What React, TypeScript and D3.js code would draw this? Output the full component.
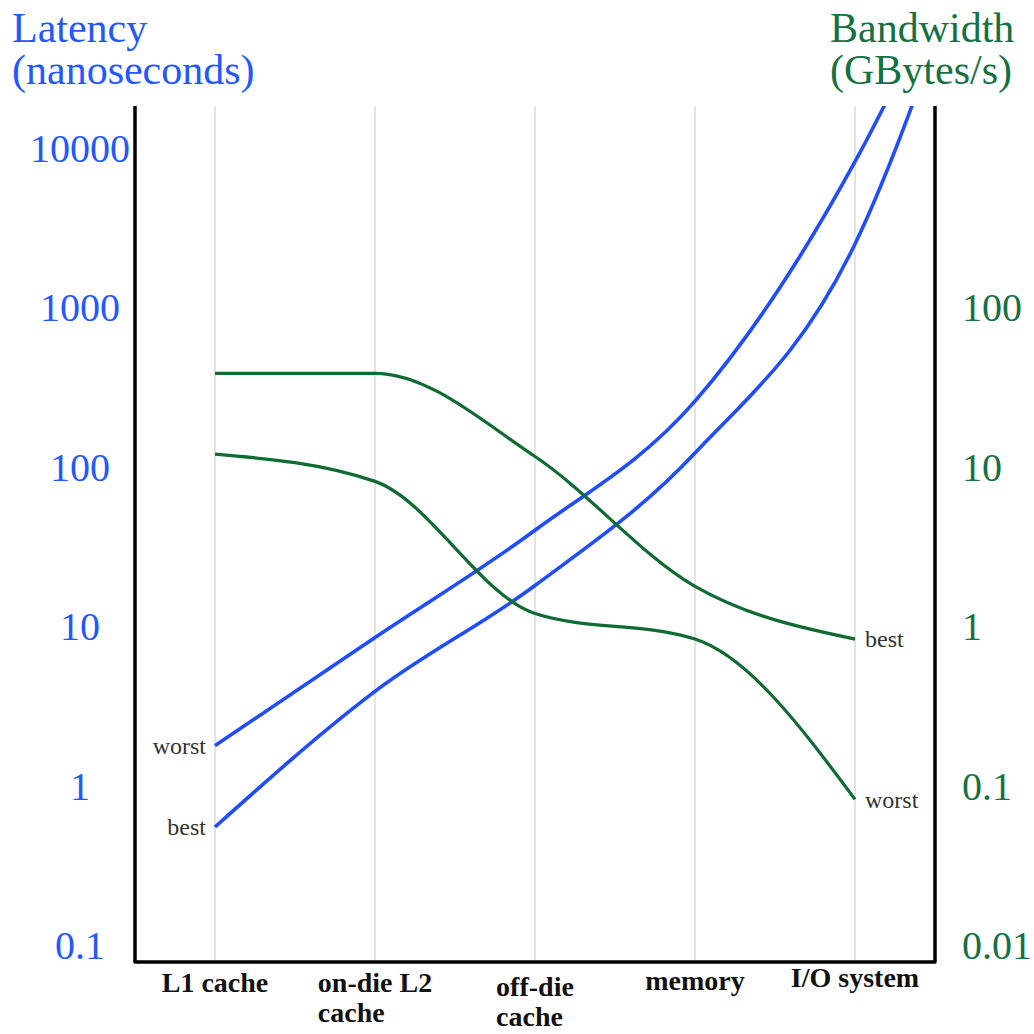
import React, { useEffect, useRef } from "react";
import * as d3 from "d3";

const categories = ["L1 cache", "on-die L2 cache", "off-die cache", "memory", "I/O system"];
const categoryLines = [["L1 cache"], ["on-die L2", "cache"], ["off-die", "cache"], ["memory"], ["I/O system"]];
const categoryShift = [0, 0, 4, -2, -5];

// latency in nanoseconds (left axis)
const latencyWorst = [1.78, 8.5, 40, 258, 8200];
const latencyBest = [0.55, 3.9, 18, 122, 2500];
// the latency curves keep rising past I/O system and leave the plot
const latencyWorstBeyond = 300000;
const latencyBestBeyond = 250000;

// bandwidth in GBytes/s (right axis)
const bandwidthBest = [38.6, 38.6, 11.6, 1.78, 0.83];
const bandwidthWorst = [12, 8.1, 1.2, 0.83, 0.082];

const latencyTicks = [0.1, 1, 10, 100, 1000, 10000];
const latencyTickLabels = ["0.1", "1", "10", "100", "1000", "10000"];
const bandwidthTicks = [0.01, 0.1, 1, 10, 100];
const bandwidthTickLabels = ["0.01", "0.1", "1", "10", "100"];

const BLUE = "#1f4dff";
const BLUE_TEXT = "#2458ff";
const GREEN = "#0f6a34";
const GREEN_TEXT = "#157043";
const SERIF = "'Liberation Serif', 'Times New Roman', serif";

const App = () => {
  const svgRef = useRef<SVGSVGElement>(null);

  useEffect(() => {
    const W = 1034;
    const H = 1034;
    const left = 135;
    const right = 935;
    const top = 106;
    const bottom = 962;

    const x = d3.scalePoint<string>().domain(categories).range([left, right]).padding(0.5);
    const yLat = d3.scaleLog().domain([0.1, 10000]).range([945, 148]);
    const yBw = d3.scaleLog().domain([0.01, 1000]).range([945, 148]);

    const svg = d3.select(svgRef.current).attr("width", W).attr("height", H);
    svg.selectAll("*").remove();

    svg
      .append("defs")
      .append("clipPath")
      .attr("id", "plot-clip")
      .append("rect")
      .attr("x", left)
      .attr("y", top)
      .attr("width", right - left)
      .attr("height", bottom - top);

    // grid
    svg
      .append("g")
      .selectAll("line")
      .data(categories)
      .enter()
      .append("line")
      .attr("x1", (d) => x(d)!)
      .attr("x2", (d) => x(d)!)
      .attr("y1", top)
      .attr("y2", bottom)
      .attr("stroke", "#c8c8c8")
      .attr("stroke-width", 1);

    const beyondX = x(categories[categories.length - 1])! + x.step() / 2 + 40;

    const line = d3
      .line<[number, number]>()
      .x((d) => d[0])
      .y((d) => d[1])
      .curve(d3.curveMonotoneX);

    const plot = svg.append("g").attr("clip-path", "url(#plot-clip)");

    const latSeries = [
      { values: latencyWorst, beyond: latencyWorstBeyond },
      { values: latencyBest, beyond: latencyBestBeyond },
    ];
    latSeries.forEach((s) => {
      const pts: [number, number][] = s.values.map((v, i) => [x(categories[i])!, yLat(v)]);
      pts.push([beyondX, yLat(s.beyond)]);
      plot
        .append("path")
        .attr("d", line(pts))
        .attr("fill", "none")
        .attr("stroke", BLUE)
        .attr("stroke-width", 3.6);
    });

    [bandwidthBest, bandwidthWorst].forEach((vals) => {
      const pts: [number, number][] = vals.map((v, i) => [x(categories[i])!, yBw(v)]);
      plot
        .append("path")
        .attr("d", line(pts))
        .attr("fill", "none")
        .attr("stroke", GREEN)
        .attr("stroke-width", 3.2);
    });

    // axes frame
    svg
      .append("path")
      .attr("d", `M${left},${top} V${bottom} H${right} V${top}`)
      .attr("fill", "none")
      .attr("stroke", "#000")
      .attr("stroke-width", 3.5)
      .attr("stroke-linejoin", "round");

    // left ticks
    svg
      .append("g")
      .selectAll("text")
      .data(latencyTicks)
      .enter()
      .append("text")
      .attr("x", 80)
      .attr("y", (d) => yLat(d))
      .attr("dy", "0.35em")
      .attr("text-anchor", "middle")
      .attr("font-family", SERIF)
      .attr("font-size", 40)
      .attr("fill", BLUE_TEXT)
      .text((d, i) => latencyTickLabels[i]);

    // right ticks
    svg
      .append("g")
      .selectAll("text")
      .data(bandwidthTicks)
      .enter()
      .append("text")
      .attr("x", 962)
      .attr("y", (d) => yBw(d))
      .attr("dy", "0.35em")
      .attr("text-anchor", "start")
      .attr("font-family", SERIF)
      .attr("font-size", 40)
      .attr("fill", GREEN_TEXT)
      .text((d, i) => bandwidthTickLabels[i]);

    // axis titles
    const titles = [
      { lines: ["Latency", "(nanoseconds)"], x: 12, color: BLUE_TEXT },
      { lines: ["Bandwidth", "(GBytes/s)"], x: 830, color: GREEN_TEXT },
    ];
    titles.forEach((t) => {
      const txt = svg
        .append("text")
        .attr("font-family", SERIF)
        .attr("font-size", 42)
        .attr("fill", t.color);
      t.lines.forEach((l, i) => {
        txt.append("tspan").attr("x", t.x).attr("y", 42 + i * 42).text(l);
      });
    });

    // category labels: each block centred on its gridline, lines left aligned
    categoryLines.forEach((lines, i) => {
      const cx = x(categories[i])!;
      const txt = svg
        .append("text")
        .attr("font-family", SERIF)
        .attr("font-size", 28)
        .attr("font-weight", "bold")
        .attr("fill", "#111");
      const spans = lines.map((l, j) =>
        txt
          .append("tspan")
          .attr("y", 992 + categoryShift[i] + j * 30)
          .text(l)
      );
      const widest = d3.max(spans, (s) => (s.node() as SVGTSpanElement).getComputedTextLength()) || 0;
      spans.forEach((s) => s.attr("x", cx - widest / 2));
    });

    // best / worst annotations
    const labelStyle = (sel: d3.Selection<SVGTextElement, unknown, null, undefined>) =>
      sel.attr("font-family", SERIF).attr("font-size", 24).attr("fill", "#333").attr("dy", "0.35em");

    const firstX = x(categories[0])!;
    const lastX = x(categories[categories.length - 1])!;
    svg.append("text").call(labelStyle).attr("x", firstX - 9).attr("y", yLat(latencyWorst[0])).attr("text-anchor", "end").text("worst");
    svg.append("text").call(labelStyle).attr("x", firstX - 9).attr("y", yLat(latencyBest[0])).attr("text-anchor", "end").text("best");
    svg.append("text").call(labelStyle).attr("x", lastX + 10).attr("y", yBw(bandwidthBest[4])).attr("text-anchor", "start").text("best");
    svg.append("text").call(labelStyle).attr("x", lastX + 10).attr("y", yBw(bandwidthWorst[4])).attr("text-anchor", "start").text("worst");
  }, []);

  return (
    <div style={{ position: "absolute", left: 0, top: 0, background: "#fff" }}>
      <svg ref={svgRef} style={{ display: "block" }}></svg>
    </div>
  );
};

export default App;
